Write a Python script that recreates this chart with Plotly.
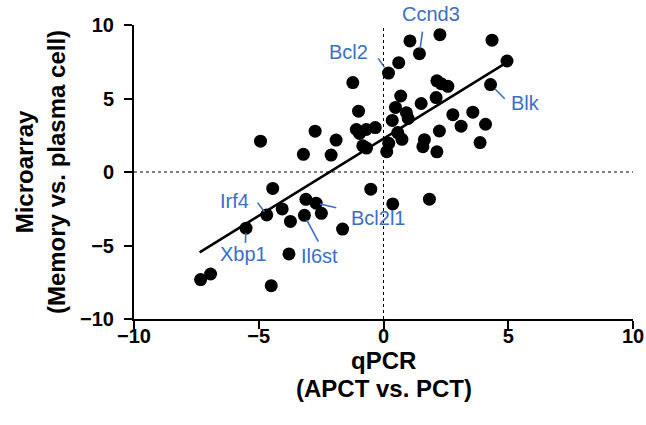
import plotly.graph_objects as go

# ---- data ----
qpcr = [0.20, -1.23, -1.00, -4.93, -2.74, -1.90, -3.21, -2.10, -1.09, -0.69,
        -0.33, -0.96, -0.83, -0.68, 0.13, 0.21, 0.61, 1.06, 1.44, 2.26,
        4.35, 4.95, 4.29, 2.14, 2.31, 2.58, 0.69, 1.51, 2.11, 0.48,
        0.92, 0.99, 0.35, 0.57, 0.74, 1.64, 1.58, 2.24, 2.78, 3.11,
        3.58, 4.09, 3.87, 2.14, -4.44, -4.68, -4.06, -5.51, -3.73, -3.11,
        -2.70, -2.49, -3.17, -1.64, -3.79, -4.50, -7.33, -6.93, -0.51, 0.37,
        1.84]
microarray = [6.73, 6.08, 4.14, 2.10, 2.78, 2.17, 1.20, 1.15, 2.89, 2.89,
              3.02, 2.62, 1.78, 1.63, 1.38, 1.95, 7.44, 8.92, 8.05, 9.34,
              8.97, 7.55, 5.95, 6.20, 6.01, 5.83, 5.17, 4.66, 5.06, 4.39,
              4.03, 3.64, 3.51, 2.68, 2.22, 2.20, 1.72, 2.79, 3.90, 3.12,
              4.07, 3.25, 2.00, 1.37, -1.12, -2.92, -2.51, -3.82, -3.36, -1.86,
              -2.12, -2.81, -2.95, -3.88, -5.57, -7.73, -7.32, -6.94, -1.17, -2.17,
              -1.85]
genes = ["Bcl2"] + [""] * 17 + ["Ccnd3"] + [""] * 3 + ["Blk"] + [""] * 22 + \
        ["Irf4", "", "Xbp1", "", "", "Bcl2l1", "", "Il6st"] + [""] * 8

fit_x_range = [-7.37, 4.96]
fit_slope = 1.05
fit_intercept = 2.27

x_ticks = [-10, -5, 0, 5, 10]
y_ticks = [-10, -5, 0, 5, 10]

x_title_lines = ["qPCR", "(APCT vs. PCT)"]
y_title = "Microarray<br>(Memory vs. plasma cell)"

# ---- style: label placement in pixels relative to the labelled point ----
# (text dx, text dy(up), leader tail ax, ay(down), standoff)
label_style = {
    "Bcl2":   (-40, 21, -11.7, -16.7, 7),
    "Ccnd3":  (12, 40, 3.3, -24, 5),
    "Blk":    (34.5, -18.7, 15.7, 15.7, 6),
    "Irf4":   (-32.3, 14.2, -10.6, -14.3, 4),
    "Xbp1":   (-2.9, -25.7, -0.7, 16.7, 5),
    "Il6st":  (15.5, -41, 15, 28.3, 5),
    "Bcl2l1": (62, -14.7, 21.6, 5, 4),
}
x_title_shifts = [-41, -69]
BLUE = "#3b6fc4"
FONT = "Liberation Sans, Arial, sans-serif"

fig = go.Figure()

fig.add_trace(go.Scatter(
    x=qpcr, y=microarray, mode="markers",
    marker=dict(color="black", size=13, line=dict(width=0)),
    showlegend=False, hoverinfo="skip"))

fit_y = [fit_slope * v + fit_intercept for v in fit_x_range]
fig.add_trace(go.Scatter(
    x=fit_x_range, y=fit_y, mode="lines",
    line=dict(color="black", width=2.5), showlegend=False, hoverinfo="skip"))

# dotted reference lines at 0
fig.add_vline(x=0, line=dict(color="black", width=1, dash="dot"))
fig.add_hline(y=0, line=dict(color="black", width=1, dash="dot"))

annotations = []
for gx, gy, name in zip(qpcr, microarray, genes):
    if not name:
        continue
    tdx, tdy, ax, ay, so = label_style[name]
    annotations.append(dict(
        x=gx, y=gy, xref="x", yref="y", text=name, showarrow=False,
        xshift=tdx, yshift=tdy, font=dict(family=FONT, size=20, color=BLUE)))
    annotations.append(dict(
        x=gx, y=gy, xref="x", yref="y", text=" ", showarrow=True,
        ax=ax, ay=ay, arrowhead=0, arrowwidth=1.6, arrowcolor=BLUE,
        standoff=so, font=dict(size=1)))

# x axis title lines (paper annotations for precise positioning)
for line_text, shift in zip(x_title_lines, x_title_shifts):
    annotations.append(dict(
        x=0.5, y=0, xref="paper", yref="paper", xanchor="center", yanchor="middle",
        yshift=shift, showarrow=False, text=line_text, borderpad=0,
        font=dict(family=FONT, size=24, color="black", weight=700)))

axis_common = dict(
    showgrid=False, zeroline=False, showline=True, linecolor="black",
    linewidth=2, ticks="outside", ticklen=8, tickwidth=2, tickcolor="black",
    tickfont=dict(family=FONT, size=20, color="black", weight=700),
    range=[-10, 10], automargin=False,
)

fig.update_layout(
    width=646, height=425,
    margin=dict(l=134, r=13, t=25, b=106),
    paper_bgcolor="white", plot_bgcolor="white",
    xaxis=dict(**axis_common, tickvals=x_ticks, ticklabelstandoff=-10),
    yaxis=dict(**axis_common, tickvals=y_ticks, ticklabelstandoff=6,
               title=dict(text=y_title, standoff=8,
                          font=dict(family=FONT, size=24, color="black", weight=700))),
    annotations=annotations,
)

fig.write_html(
    "out.html",
    config={"displayModeBar": False},
    post_script="document.body.style.margin='0';document.body.style.overflow='hidden';",
)
